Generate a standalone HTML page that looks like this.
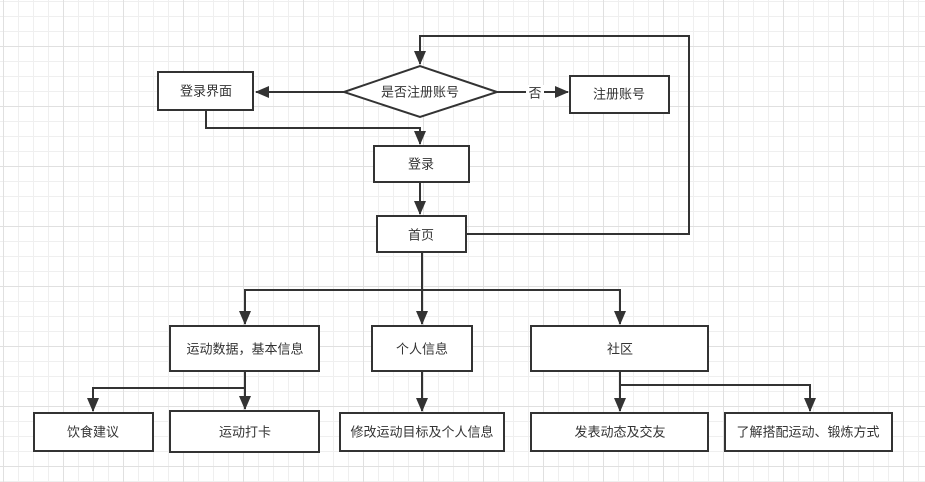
<!DOCTYPE html>
<html><head><meta charset="utf-8"><style>
html,body{margin:0;padding:0;background:#fff}
body{width:925px;height:482px;overflow:hidden;
background-image:
linear-gradient(#e0e0e0 1px,transparent 1px),
linear-gradient(90deg,#e0e0e0 1px,transparent 1px),
linear-gradient(#efefef 1px,transparent 1px),
linear-gradient(90deg,#efefef 1px,transparent 1px);
background-size:60px 60px,60px 60px,15px 15px,15px 15px;
background-position:0 46px,3px 0,0 1px,3px 0;}
svg{position:absolute;left:0;top:0}
text{font-family:"Liberation Sans","Noto Sans CJK SC",sans-serif;font-size:13px;fill:#333;text-anchor:middle;dominant-baseline:central}
</style></head><body>
<svg width="925" height="482" viewBox="0 0 925 482">
<defs><marker id="a" markerWidth="14" markerHeight="12" refX="13" refY="6" orient="auto" markerUnits="userSpaceOnUse"><path d="M0,0 L14,6 L0,12 Z" fill="#333"/></marker></defs>
<g fill="none" stroke="#333" stroke-width="2">
<path d="M344,92 H256" marker-end="url(#a)"/>
<path d="M497,92 H568" marker-end="url(#a)"/>
<path d="M206,110 V128 H420 V144" marker-end="url(#a)"/>
<path d="M420,182 V214" marker-end="url(#a)"/>
<path d="M466,234 H689 V36 H420 V64" marker-end="url(#a)"/>
<path d="M422,252 V324" marker-end="url(#a)"/>
<path d="M245,324 V290 H620 V324" marker-end="url(#a)"/>
<path d="M245,290 V324" marker-end="url(#a)"/>
<path d="M245,371 V409" marker-end="url(#a)"/>
<path d="M245,388 H93 V411" marker-end="url(#a)"/>
<path d="M422,371 V411" marker-end="url(#a)"/>
<path d="M620,371 V411" marker-end="url(#a)"/>
<path d="M620,385 H810 V411" marker-end="url(#a)"/>
<g fill="#fff">
<rect x="158" y="72" width="95" height="38"/>
<polygon points="344,92 420,66 497,92 420,117"/>
<rect x="570" y="76" width="99" height="37"/>
<rect x="374" y="146" width="95" height="36"/>
<rect x="377" y="216" width="89" height="36"/>
<rect x="170" y="326" width="149" height="45"/>
<rect x="372" y="326" width="100" height="45"/>
<rect x="531" y="326" width="177" height="45"/>
<rect x="34" y="413" width="119" height="38"/>
<rect x="170" y="411" width="149" height="41"/>
<rect x="340" y="413" width="164" height="38"/>
<rect x="531" y="413" width="177" height="38"/>
<rect x="725" y="413" width="167" height="38"/>
</g>
</g>
<rect x="526" y="85" width="18" height="15" fill="#fff"/>
<text x="535" y="93">否</text>
<text x="206" y="91">登录界面</text>
<text x="420" y="92">是否注册账号</text>
<text x="619" y="94">注册账号</text>
<text x="421" y="164">登录</text>
<text x="421" y="235">首页</text>
<text x="245" y="349">运动数据，基本信息</text>
<text x="422" y="349">个人信息</text>
<text x="620" y="349">社区</text>
<text x="93" y="432">饮食建议</text>
<text x="245" y="432">运动打卡</text>
<text x="422" y="432">修改运动目标及个人信息</text>
<text x="620" y="432">发表动态及交友</text>
<text x="808" y="432">了解搭配运动、锻炼方式</text>
</svg>
</body></html>
